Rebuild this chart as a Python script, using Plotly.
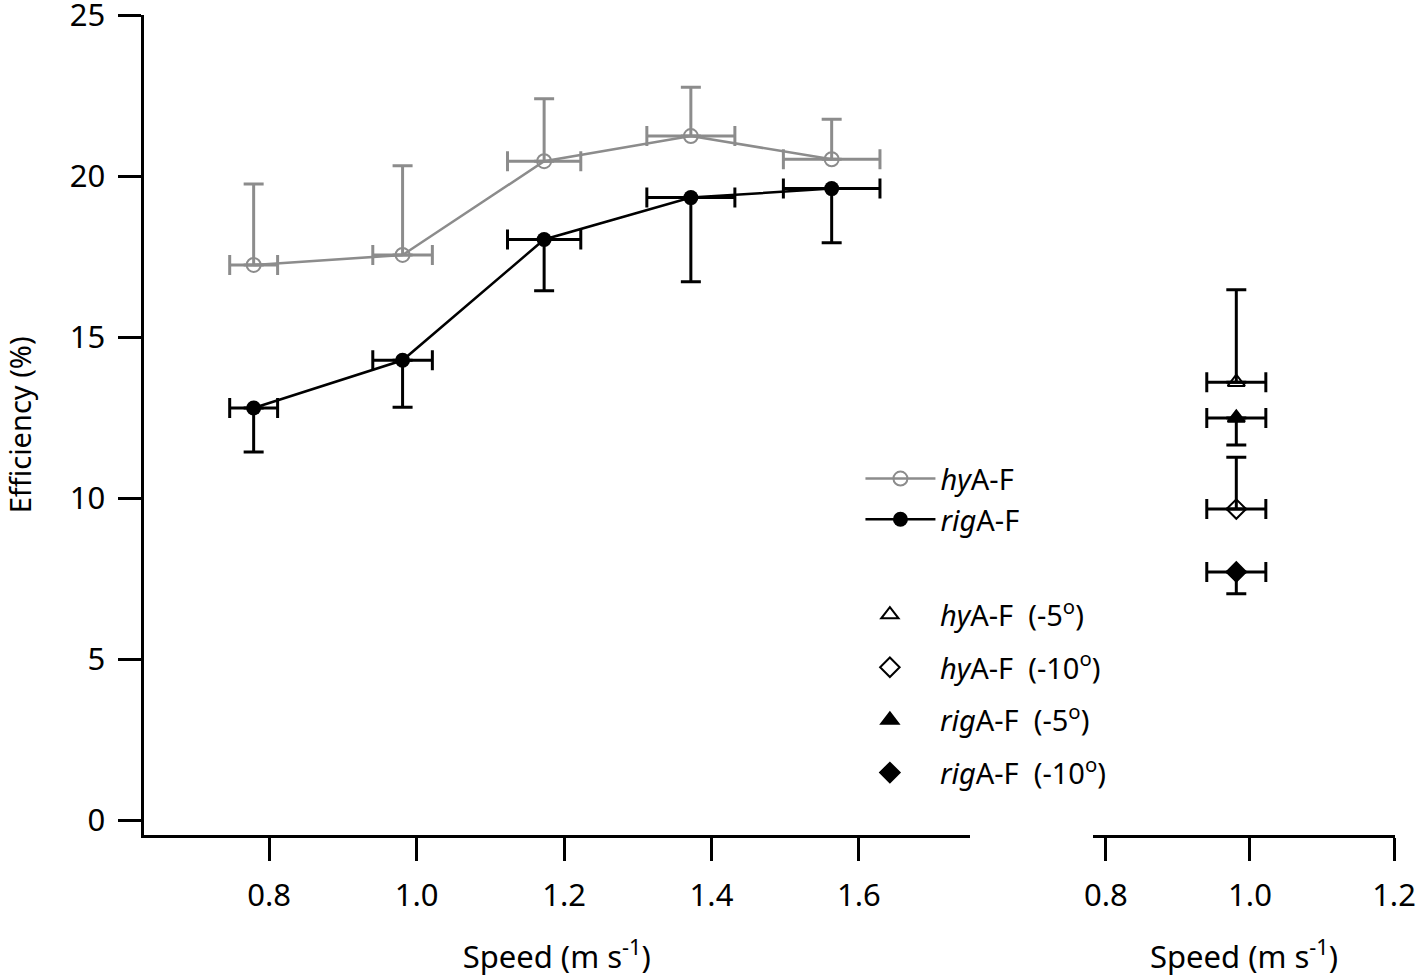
import plotly.graph_objects as go

# ---- data ----
speed = [0.779, 0.981, 1.173, 1.372, 1.563]
speed_err = [0.0325, 0.0404, 0.0497, 0.0597, 0.0655]
eff_hy = [17.25, 17.56, 20.47, 21.25, 20.53]
eff_hy_err = [2.51, 2.77, 1.94, 1.52, 1.24]
eff_rig = [12.81, 14.29, 18.04, 19.34, 19.62]
eff_rig_err = [1.37, 1.46, 1.59, 2.61, 1.68]

angle_speed = [0.981]
angle_speed_err = [0.041]
hy5 = [13.61]; hy5_err = [2.87]
hy10 = [9.67]; hy10_err = [1.61]
rig5 = [12.50]; rig5_err = [0.84]
rig10 = [7.72]; rig10_err = [0.68]

y_ticks = [0, 5, 10, 15, 20, 25]
x_ticks = [0.8, 1.0, 1.2, 1.4, 1.6]
x2_ticks = [0.8, 1.0, 1.2]

GREY = "#8c8c8c"
BLACK = "#000000"
FONT = "Noto Sans"
FS = 31

fig = go.Figure()

def zeros(a):
    return [0] * len(a)

fig.add_trace(go.Scatter(
    x=speed, y=eff_hy, mode="lines+markers", name="<i>hy</i>A-F",
    line=dict(color=GREY, width=2.5),
    marker=dict(symbol="circle-open", size=14, color=GREY, line=dict(width=2)),
    error_y=dict(type="data", symmetric=False, array=eff_hy_err, arrayminus=zeros(eff_hy_err),
                 color=GREY, thickness=3, width=10),
    error_x=dict(type="data", array=speed_err, color=GREY, thickness=3, width=10),
    xaxis="x", yaxis="y", legend="legend"))

fig.add_trace(go.Scatter(
    x=speed, y=eff_rig, mode="lines+markers", name="<i>rig</i>A-F",
    line=dict(color=BLACK, width=2.5),
    marker=dict(symbol="circle", size=15, color=BLACK),
    error_y=dict(type="data", symmetric=False, array=zeros(eff_rig_err), arrayminus=eff_rig_err,
                 color=BLACK, thickness=3, width=10),
    error_x=dict(type="data", array=speed_err, color=BLACK, thickness=3, width=10),
    xaxis="x", yaxis="y", legend="legend"))

right_series = [
    ("<i>hy</i>A-F  (-5<sup>o</sup>)", hy5, hy5_err, "up", "triangle-up-open"),
    ("<i>hy</i>A-F  (-10<sup>o</sup>)", hy10, hy10_err, "up", "diamond-open"),
    ("<i>rig</i>A-F  (-5<sup>o</sup>)", rig5, rig5_err, "down", "triangle-up"),
    ("<i>rig</i>A-F  (-10<sup>o</sup>)", rig10, rig10_err, "down", "diamond"),
]
for i, (name, vals, errs, direction, sym) in enumerate(right_series):
    up = errs if direction == "up" else zeros(errs)
    dn = errs if direction == "down" else zeros(errs)
    fig.add_trace(go.Scatter(
        x=angle_speed, y=vals, mode="markers", name=name, legendgroup=f"g{i}",
        marker=dict(symbol=sym, size=15, color=BLACK, line=dict(width=2, color=BLACK)),
        error_y=dict(type="data", symmetric=False, array=up, arrayminus=dn,
                     color=BLACK, thickness=3, width=10),
        error_x=dict(type="data", array=angle_speed_err, color=BLACK, thickness=3, width=10),
        xaxis="x2", yaxis="y2", legend="legend2"))

axis_common = dict(
    showline=True, linecolor=BLACK, linewidth=3,
    ticks="outside", ticklen=23, tickwidth=3, tickcolor=BLACK,
    showgrid=False, zeroline=False, automargin=False,
    ticklabeloverflow="allow",
    tickfont=dict(family=FONT, size=FS, color=BLACK),
)

fig.update_layout(
    width=1418, height=977,
    margin=dict(l=0, r=0, t=0, b=0),
    paper_bgcolor="white", plot_bgcolor="white",
    font=dict(family=FONT, size=FS, color=BLACK),
    xaxis=dict(domain=[0.1012, 0.684], range=[0.6296, 1.7505], tickvals=x_ticks,
               ticktext=["0.8", "1.0", "1.2", "1.4", "1.6"], anchor="y",
               ticklabelstandoff=8,
               title=dict(text="Speed (m s<sup>-1</sup>)", font=dict(family=FONT, size=FS), standoff=44),
               **axis_common),
    xaxis2=dict(domain=[0.7708, 0.9838], range=[0.782, 1.2014], tickvals=x2_ticks,
                ticktext=["0.8", "1.0", "1.2"], anchor="y2",
                ticklabelstandoff=8,
                title=dict(text="Speed (m s<sup>-1</sup>)", font=dict(family=FONT, size=FS), standoff=44),
                **axis_common),
    yaxis=dict(domain=[0.1453, 0.9850], range=[-0.45, 25.02], tickvals=y_ticks, anchor="x",
               ticklabelstandoff=6,
               title=dict(text="Efficiency (%)", font=dict(family=FONT, size=FS - 2), standoff=55),
               **axis_common),
    yaxis2=dict(domain=[0.1453, 0.9850], range=[-0.45, 25.02], matches="y", anchor="x2",
                visible=False),
    legend=dict(x=0.6068, y=0.489, xanchor="left", yanchor="middle",
                bgcolor="rgba(0,0,0,0)", font=dict(family=FONT, size=FS - 2),
                itemwidth=70, tracegroupgap=0),
    legend2=dict(x=0.5923, y=0.29, xanchor="left", yanchor="middle",
                 bgcolor="rgba(0,0,0,0)", font=dict(family=FONT, size=FS - 2),
                 itemwidth=90, tracegroupgap=12),
    showlegend=True,
)

fig.write_html(
    "out.html",
    config={"displayModeBar": False},
    post_script="document.body.style.margin='0';document.body.style.overflow='hidden';",
)
